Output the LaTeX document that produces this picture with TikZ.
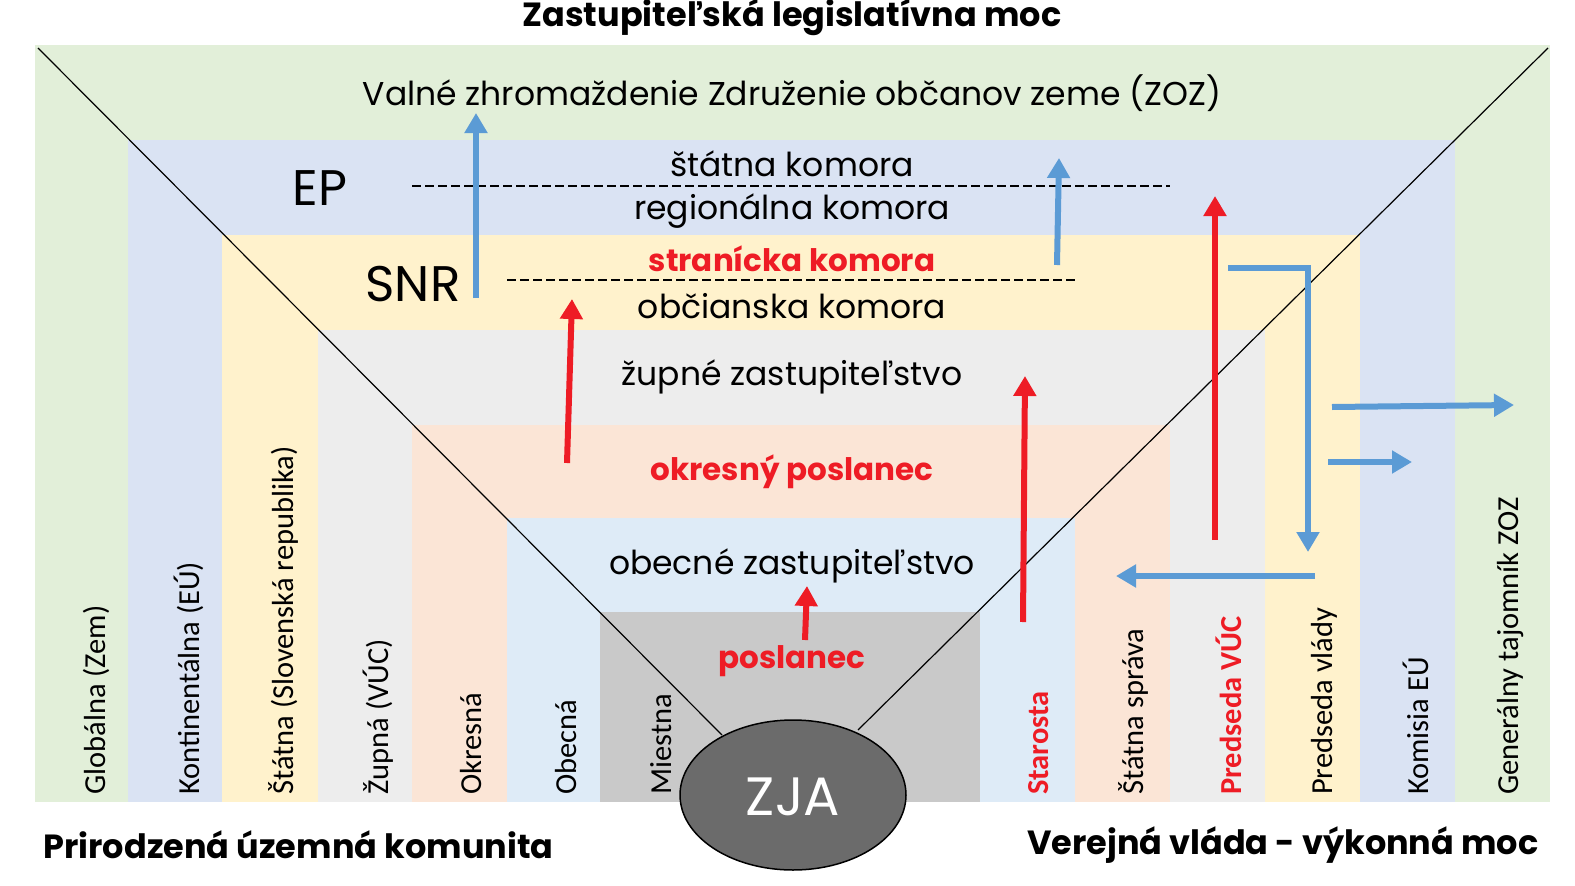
\documentclass[tikz,border=0pt]{standalone}
\usepackage{fontspec}
\setmainfont{Poppins}
\newfontfamily\vfont{Carlito}
\usetikzlibrary{arrows.meta,shapes.geometric}
\definecolor{cgreen}{HTML}{E2EFD9}
\definecolor{clav}{HTML}{DAE3F3}
\definecolor{cyel}{HTML}{FFF2CC}
\definecolor{cgray}{HTML}{EDEDED}
\definecolor{cpeach}{HTML}{FBE5D6}
\definecolor{clblue}{HTML}{DEEBF7}
\definecolor{cdgray}{HTML}{C9C9C9}
\definecolor{cblue}{HTML}{5B9BD5}
\definecolor{cred}{HTML}{EE1C25}
\tikzset{
 barlabel/.style={rotate=90,anchor=west,font=\vfont\fontsize{30.5}{30}\selectfont,inner sep=0},
 redlabel/.style={barlabel,text=cred,font=\vfont\bfseries\fontsize{30.5}{30}\selectfont},
 htext/.style={font=\fontsize{33}{33}\selectfont},
 redtext/.style={font=\bfseries\fontsize{31}{31}\selectfont,text=cred},
 corner/.style={font=\bfseries\fontsize{33.5}{33}\selectfont},
 barrow/.style={cblue,line width=6pt,-{Triangle[length=20pt,width=22pt]}},
 rarrow/.style={cred,line width=6pt,-{Triangle[length=20pt,width=22pt]}},
 dline/.style={dashed,line width=1.2pt,dash pattern=on 9pt off 4pt}
}
\begin{document}
\begin{tikzpicture}[x=1pt,y=-1pt]
\useasboundingbox (0,0) rectangle (1575,886);
\fill[white] (0,0) rectangle (1575,886);
\fill[cgreen] (35,45) rectangle (1550,802);
\fill[clav] (128,140) rectangle (1455,802);
\fill[cyel] (222,235) rectangle (1360,802);
\fill[cgray] (318,330) rectangle (1265,802);
\fill[cpeach] (412,425) rectangle (1170,802);
\fill[clblue] (507,518) rectangle (1075,802);
\fill[cdgray] (600,612) rectangle (980,802);
\coordinate (d1a) at (38,48); \coordinate (d1b) at (722,735);
\coordinate (d2a) at (1548,48); \coordinate (d2b) at (858,730);
\draw[line width=1.2pt] (d1a) -- (d1b);
\draw[line width=1.2pt] (d2a) -- (d2b);
\node[ellipse,draw=black,line width=1.5pt,fill=black!58,minimum width=226pt,minimum height=150pt,inner sep=0] (zja) at (793,795) {};
\node[text=white,font=\fontsize{54}{54}\selectfont] (zjat) at (793,797) {ZJA};
\node[corner] (title) at (792,17) {Zastupiteľská legislatívna moc};
\node[corner,anchor=west] (bl) at (40,845) {Prirodzená územná komunita};
\node[corner,anchor=east] (br) at (1542,845) {Verejná vláda - výkonná moc};
\node[htext] (zoz) at (792,93) {Valné zhromaždenie Združenie občanov zeme (ZOZ)};
\node[htext] (st) at (792,164) {štátna komora};
\node[htext] (reg) at (792,211) {regionálna komora};
\node[redtext] (str) at (792,259) {stranícka komora};
\node[htext] (obc) at (792,306) {občianska komora};
\node[htext] (zup) at (792,377) {župné zastupiteľstvo};
\node[redtext] (okr) at (792,472) {okresný poslanec};
\node[htext] (obz) at (792,566) {obecné zastupiteľstvo};
\node[redtext] (pos) at (792,661) {poslanec};
\node[font=\fontsize{50}{50}\selectfont] (ep) at (320,188) {EP};
\node[font=\fontsize{50}{50}\selectfont] (snr) at (413,284) {SNR};
\coordinate (e1) at (412,186); \coordinate (e2) at (1170,186);
\coordinate (s1) at (507,280); \coordinate (s2) at (1075,280);
\draw[dline] (e1) -- (e2);
\draw[dline] (s1) -- (s2);
\foreach \x/\t/\n in {85/Globálna (Zem)/l1,178/Kontinentálna (EÚ)/l2,272/Štátna (Slovenská republika)/l3,367/Župná (VÚC)/l4,460/Okresná/l5,555/Obecná/l6,650/Miestna/l7,1122/Štátna správa/l8,1313/Predseda vlády/l9,1405/Komisia EÚ/l10,1500/Generálny tajomník ZOZ/l11}
 \node[barlabel] (\n) at (\x+11,795) {\t};
\node[redlabel] (sta) at (1039,795) {Starosta};
\node[redlabel] (pvuc) at (1229,795) {Predseda VÚC};
\coordinate (a1s) at (476,298); \coordinate (a1e) at (476,113);
\coordinate (a2s) at (1057,265); \coordinate (a2e) at (1059,158);
\coordinate (a3s) at (1228,268); \coordinate (a3m) at (1308,268); \coordinate (a3e) at (1308,552);
\coordinate (a4s) at (1332,407); \coordinate (a4e) at (1514,405);
\coordinate (a5s) at (1328,462); \coordinate (a5e) at (1412,462);
\coordinate (a6s) at (1315,576); \coordinate (a6e) at (1116,576);
\draw[barrow] (a1s) -- (a1e);
\draw[barrow] (a2s) -- (a2e);
\draw[barrow] (a3s) -- (a3m) -- (a3e);
\draw[barrow] (a4s) -- (a4e);
\draw[barrow] (a5s) -- (a5e);
\draw[barrow] (a6s) -- (a6e);
\coordinate (r1s) at (567,463); \coordinate (r1e) at (572,299);
\coordinate (r2s) at (1023,622); \coordinate (r2e) at (1025,376);
\coordinate (r3s) at (1215,540); \coordinate (r3e) at (1215,196);
\coordinate (r4s) at (805,640); \coordinate (r4e) at (807,586);
\draw[rarrow] (r1s) -- (r1e);
\draw[rarrow] (r2s) -- (r2e);
\draw[rarrow] (r3s) -- (r3e);
\draw[rarrow] (r4s) -- (r4e);
\end{tikzpicture}
\end{document}
